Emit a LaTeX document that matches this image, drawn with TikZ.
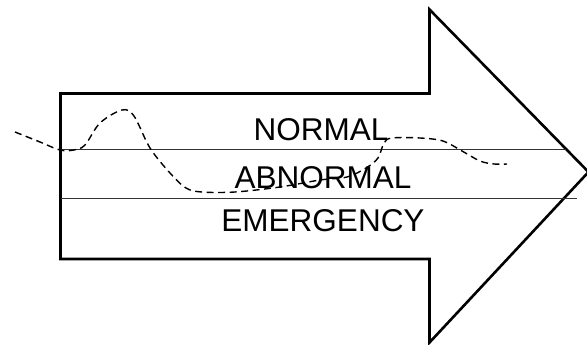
\documentclass[tikz,border=0pt]{standalone}
\usepackage{fontspec}
\setmainfont{Liberation Sans}
\begin{document}
\begin{tikzpicture}[x=1pt,y=-1pt,
  outline/.style={draw=black,line width=2.6pt,line join=miter},
  band/.style={draw=black!80,line width=1pt},
  level/.style={font=\fontsize{31.5}{31.5}\selectfont,inner sep=0pt,anchor=base},
  trace/.style={draw=black,line width=1.4pt,dash pattern=on 7pt off 4.5pt}]
\useasboundingbox (0,0) rectangle (587,345);
% arrow outline
\coordinate (bl) at (60.5,259);
\coordinate (tl) at (60.5,93.5);
\coordinate (ti) at (429.5,93.5);
\coordinate (tt) at (429.5,9.5);
\coordinate (tip) at (588.5,172);
\coordinate (bt) at (429.5,342.5);
\coordinate (bi) at (429.5,259);
\draw[outline] (bl) -- (tl) -- (ti) -- (tt) -- (tip) -- (bt) -- (bi) -- cycle;
% band dividers
\coordinate (u1) at (60.5,149);
\coordinate (u2) at (566,149);
\coordinate (l1) at (60.5,198);
\coordinate (l2) at (577,198);
\draw[band] (u1) -- (u2);
\draw[band] (l1) -- (l2);
% level labels
\node[level] (normal) at (321,140) {NORMAL};
\node[level] (abnormal) at (323,188) {ABNORMAL};
\node[level] (emergency) at (323,231.5) {EMERGENCY};
% state trajectory
\draw[trace] plot[smooth,tension=0.55] coordinates {
  (15,132) (40,142) (60,150) (74,150) (85,145) (100,123) (122,110)
  (134,116) (150,148) (170,173) (186,188) (202,192) (235,192)
  (280,187) (320,180) (347,177) (366,168) (378,158) (384,143)
  (392,138) (420,138) (443,141) (462,151) (480,161) (494,164) (507,164)};
\end{tikzpicture}
\end{document}
